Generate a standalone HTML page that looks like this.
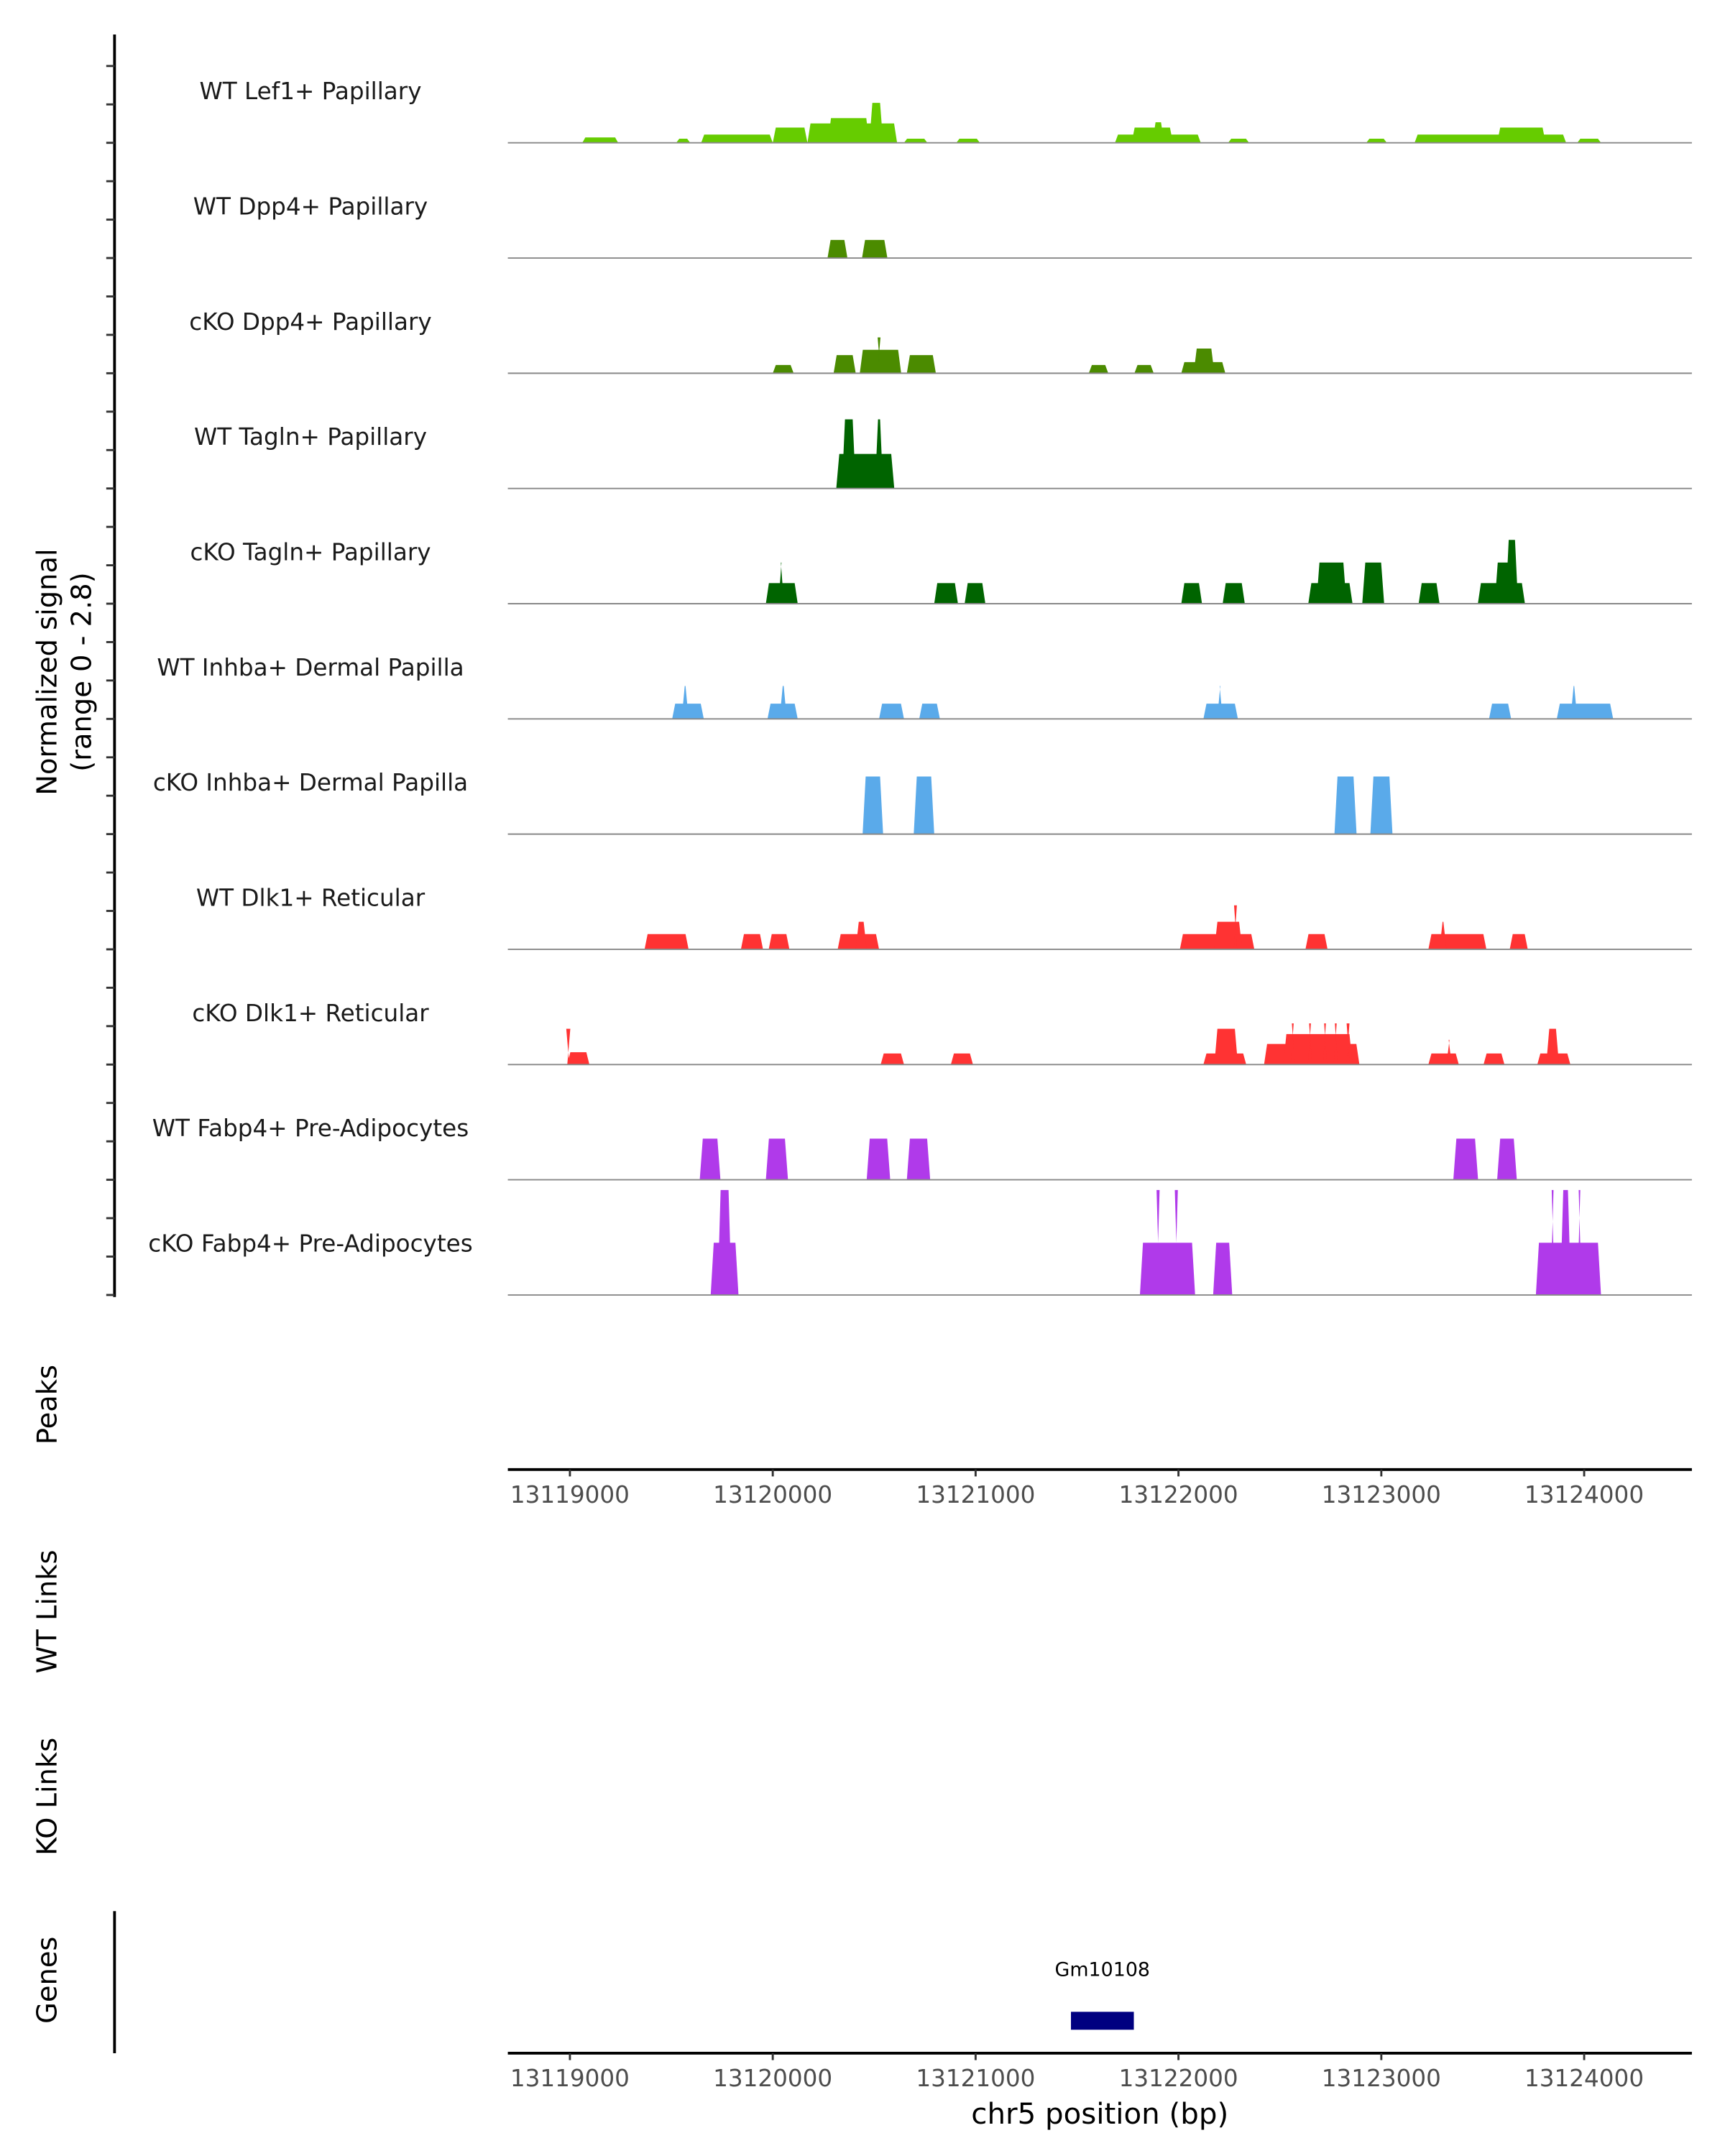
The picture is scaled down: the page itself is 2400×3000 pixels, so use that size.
<!DOCTYPE html>
<html><head><meta charset="utf-8"><style>
html,body{margin:0;padding:0;background:#fff;}
svg{display:block;font-family:"DejaVu Sans","Liberation Sans",sans-serif;}
</style></head><body>
<svg id="chart" width="2400" height="3000" viewBox="0 0 1250 1562.5" xmlns="http://www.w3.org/2000/svg">
<rect x="0" y="0" width="1250" height="1562.5" fill="#fff"/>
<g id="tracks"></g>
<g id="axes"></g>
</svg>
<script>
// Data (bp offsets from 13119000; heights in normalized signal units, range 0-2.8)
const trackNames = ["WT Lef1+ Papillary","WT Dpp4+ Papillary","cKO Dpp4+ Papillary","WT Tagln+ Papillary","cKO Tagln+ Papillary","WT Inhba+ Dermal Papilla","cKO Inhba+ Dermal Papilla","WT Dlk1+ Reticular","cKO Dlk1+ Reticular","WT Fabp4+ Pre-Adipocytes","cKO Fabp4+ Pre-Adipocytes"];
const trackColors = ["#66cc00","#4b8b00","#4b8b00","#006400","#006400","#5aaaea","#5aaaea","#ff3333","#ff3333","#b03aea","#b03aea"];
const lef1WT = [[61,238,0.13],[524,593,0.1],[647,1000,0.2],[1000,1171,0.37],[1171,1613,0.47],[1272,1476,0.6],[1476,1544,0.97],[1647,1762,0.1],[1905,2021,0.1],[2687,3110,0.2],[2769,2973,0.37],[2872,2929,0.5],[3245,3348,0.1],[3926,4027,0.1],[4164,4911,0.2],[4571,4810,0.37],[4966,5083,0.1]];
const dpp4WT = [[1270,1368,0.44],[1440,1565,0.44]];
const dpp4KO = [[1000,1103,0.2],[1300,1409,0.44],[1429,1633,0.57],[1516,1532,0.87],[1661,1804,0.44],[2558,2654,0.2],[2783,2878,0.2],[3014,3231,0.27],[3075,3177,0.6]];
const taglnWT = [[1313,1599,0.84],[1341,1409,1.68],[1504,1544,1.68]];
const taglnKO = [[966,1123,0.5],[1028,1055,1.0],[1796,1913,0.5],[1946,2048,0.5],[3014,3116,0.5],[3218,3327,0.5],[3640,3858,0.5],[3680,3828,1.0],[3906,4014,1.0],[4184,4287,0.5],[4476,4708,0.5],[4559,4640,1.0],[4613,4674,1.55]];
const inhbaWT = [[504,660,0.37],[551,585,0.8],[974,1123,0.37],[1034,1069,0.8],[1524,1647,0.37],[1722,1824,0.37],[3123,3293,0.37],[3191,3218,0.8],[4531,4640,0.37],[4865,5143,0.37],[4933,4966,0.8]];
const inhbaKO = [[1443,1544,1.4],[1695,1796,1.4],[3769,3878,1.4],[3946,4055,1.4]];
const dlk1WT = [[368,585,0.37],[843,952,0.37],[980,1082,0.37],[1320,1524,0.37],[1409,1463,0.67],[3007,3374,0.37],[3177,3314,0.67],[3273,3289,1.07],[3626,3735,0.37],[4232,4518,0.37],[4287,4321,0.67],[4633,4722,0.37]];
const dlk1KO = [[-13,96,0.3],[-13,-3,0.87],[1532,1647,0.27],[1878,1987,0.27],[3123,3334,0.27],[3177,3293,0.87],[3422,3892,0.5],[3517,3858,0.74],[3553,3574,1.0],[3638,3659,1.0],[3712,3733,1.0],[3765,3786,1.0],[3828,3844,1.0],[4232,4382,0.27],[4321,4347,0.6],[4504,4607,0.27],[4769,4932,0.27],[4813,4876,0.87]];
const fabp4WT = [[640,742,1.0],[966,1075,1.0],[1463,1579,1.0],[1661,1776,1.0],[4355,4477,1.0],[4571,4668,1.0]];
const fabp4KO = [[694,831,1.27],[728,797,2.55],[2810,3082,1.27],[2892,2907,2.55],[2982,2997,2.55],[3171,3265,1.27],[4762,5083,1.27],[4834,4855,2.55],[4882,4935,2.55],[4966,4988,2.55]];
const trackData = [lef1WT,dpp4WT,dpp4KO,taglnWT,taglnKO,inhbaWT,inhbaKO,dlk1WT,dlk1KO,fabp4WT,fabp4KO];
const xTicks = [13119000,13120000,13121000,13122000,13123000,13124000];
const genes = [["Gm10108",13121470,13121780]];

const NS="http://www.w3.org/2000/svg";
const X0=368, X1=1226, BP0=13118694, BP1=13124531;
const xs = bp => X0 + (bp-BP0)/(BP1-BP0)*(X1-X0);
const TOP=20, TH=83.5, YMAX=2.8;
const ys = (i,v) => TOP+TH*(i+1) - v/YMAX*TH;
function mk(tag,attrs,parent){const e=document.createElementNS(NS,tag);for(const k in attrs)e.setAttribute(k,attrs[k]);parent.appendChild(e);return e;}
const gT=document.getElementById('tracks'), gA=document.getElementById('axes');
const RAMP=15;
trackData.forEach((blocks,i)=>{
  const g=mk('g',{},gT);
  
  
  const lab=mk('text',{x:225,y:TOP+TH*i+52,'text-anchor':'middle','font-size':17,fill:'#1a1a1a'},g);
  
  
  lab.textContent=trackNames[i];
  blocks.forEach(b=>{
    const s=13119000+b[0], e=13119000+b[1], base=ys(i,0), top=ys(i,b[2]);
    const p=mk('polygon',{points:`${xs(s)},${base} ${xs(s+RAMP)},${top} ${xs(e-RAMP)},${top} ${xs(e)},${base}`,fill:trackColors[i]},g);
    
    
  });
  const bl=mk('line',{x1:X0,x2:X1,y1:ys(i,0),y2:ys(i,0),stroke:'#888','stroke-width':1},g);
  
  
});
const ax=mk('line',{x1:83,x2:83,y1:25,y2:940,stroke:'#000','stroke-width':2},gA);


for(let i=0;i<11;i++){for(let k=0;k<3;k++){const y=TOP+TH*i+TH/3*(k+1);
  const t=mk('line',{x1:77,x2:83,y1:y,y2:y,stroke:'#333','stroke-width':1.5},gA);
  
  }}
function rot(txt,x,y,name,fs){const t=mk('text',{x:x,y:y,'text-anchor':'middle','font-size':fs||20,fill:'#000',transform:`rotate(-90 ${x} ${y})`},gA);
  t.textContent=txt;return t;}
rot('Normalized signal',41,487,'y-axis-title');
rot('(range 0 - 2.8)',66,487,'y-axis-range');
rot('Peaks',41,1018,'peaks-title');
rot('WT Links',41,1168,'wt-links-title');
rot('KO Links',41,1302,'ko-links-title');
rot('Genes',41,1435,'genes-title');
function xaxis(y,name){const l=mk('line',{x1:X0,x2:X1,y1:y,y2:y,stroke:'#000','stroke-width':2},gA);
  
  xTicks.forEach(v=>{const tk=mk('line',{x1:xs(v),x2:xs(v),y1:y,y2:y+5,stroke:'#333','stroke-width':1.5},gA);
    
    const t=mk('text',{x:xs(v),y:y+24,'text-anchor':'middle','font-size':17,fill:'#4d4d4d'},gA);
    t.textContent=v;});}
xaxis(1065,'peaks-x-axis');
xaxis(1488,'genes-x-axis');
const gl=mk('line',{x1:83,x2:83,y1:1385,y2:1488,stroke:'#000','stroke-width':2},gA);

genes.forEach(g=>{const r=mk('rect',{x:xs(g[1]),y:1458,width:xs(g[2])-xs(g[1]),height:13,fill:'#000080'},gA);
  
  const t=mk('text',{x:(xs(g[1])+xs(g[2]))/2,y:1432,'text-anchor':'middle','font-size':14,fill:'#000'},gA);
  t.textContent=g[0];});
const xt=mk('text',{x:797,y:1539,'text-anchor':'middle','font-size':21,fill:'#000'},gA);
xt.textContent='chr5 position (bp)';
</script>
</body></html>
